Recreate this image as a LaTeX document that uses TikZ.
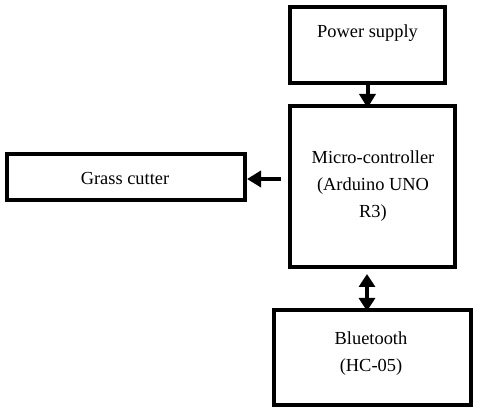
\documentclass[tikz,border=0pt]{standalone}
\usepackage{fontspec}
\setmainfont{Liberation Serif}
\usepackage{tikz}
\usetikzlibrary{arrows.meta, positioning, calc}
\tikzset{
  blk/.style={draw=black, fill=white, line width=4pt, inner sep=0pt},
  txt/.style={inner sep=0pt, align=center, font=\fontsize{18.4}{27}\selectfont},
  arr/.style={-{Triangle[length=14pt, width=16pt]}, line width=4pt},
  darr/.style={{Triangle[length=13pt, width=16pt]}-{Triangle[length=13pt, width=16pt]}, line width=4pt},
}
\begin{document}
\begin{tikzpicture}[x=1pt, y=-1pt]
  \useasboundingbox[fill=white] (0,0) rectangle (480,414);
  % ---------------- boxes ----------------
  \node[blk, minimum width=155pt, minimum height=76pt] (pwr) at (367.5,45) {};
  \node[blk, minimum width=165pt, minimum height=161pt] (mcu) at (372.5,186.5) {};
  \node[blk, minimum width=238pt, minimum height=46pt] (cut) at (126,177) {};
  \node[blk, minimum width=197pt, minimum height=95pt] (bt) at (372.5,357.5) {};

  % ---------------- texts ----------------
  \node[txt, anchor=base] (pwrtxt) at (367.5,38) {Power supply};
  \node[txt] (mcutxt) at (373,186.5) {Micro-controller\\(Arduino UNO\\R3)};
  \node[txt, anchor=base] (cuttxt) at (125,185) {Grass cutter};
  \node[txt] (bttxt) at (371,353.4) {Bluetooth\\(HC-05)};

  % ---------------- arrows ----------------
  \draw[arr] (pwr.south) -- ([yshift=-4pt]pwr.south |- mcu.north);
  \draw[arr] ([xshift=-7pt, yshift=-2pt]mcu.west |- cut.east) -- ([yshift=-2pt]cut.east);
  \draw[darr] ([xshift=-5.5pt, yshift=-5pt]mcu.south) -- ([xshift=-5.5pt, yshift=-3pt]mcu.south |- bt.north);
\end{tikzpicture}
\end{document}
